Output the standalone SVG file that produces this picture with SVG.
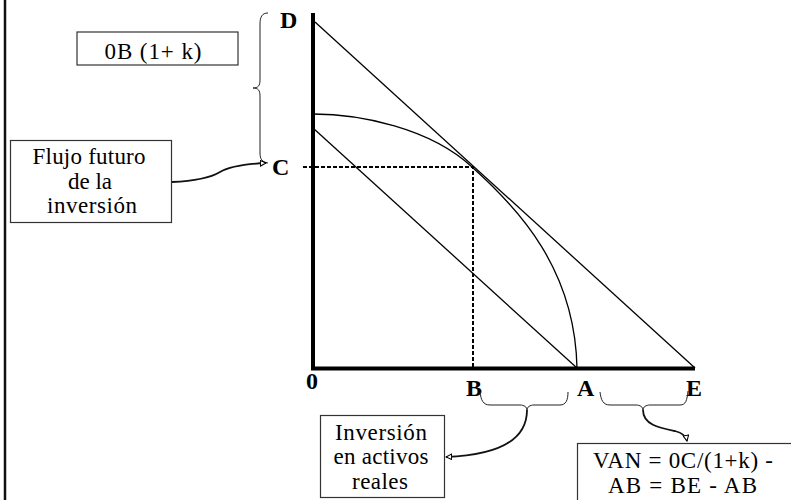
<svg xmlns="http://www.w3.org/2000/svg" width="791" height="500" viewBox="0 0 791 500">
<style>
.box{fill:#fff;stroke:#333;stroke-width:1.2}
.t{font-family:"Liberation Serif","Times New Roman",serif;font-size:23px;fill:#000;text-anchor:middle}
.lbl{font-family:"Liberation Serif","Times New Roman",serif;font-size:24px;font-weight:bold;fill:#000}
.axis{stroke:#000;stroke-width:4;fill:none}
.thin{stroke:#000;stroke-width:1.3;fill:none}
.dash{stroke:#000;stroke-width:2;stroke-dasharray:4 2;fill:none}
.brace{stroke:#222;stroke-width:1;fill:none}
.conn{stroke:#111;stroke-width:1.8;fill:none}
</style>
<defs>
<marker id="ah" viewBox="0 0 10 10" refX="9" refY="5" markerWidth="7" markerHeight="7" markerUnits="userSpaceOnUse" orient="auto">
<path d="M1,1 L9,5 L1,9 Z" fill="#fff" stroke="#000" stroke-width="1.5"/>
</marker>
</defs>

<line x1="5" y1="0" x2="5" y2="500" stroke="#111" stroke-width="2.5"/>

<g id="chart">
<line class="axis" x1="313" y1="13" x2="313" y2="370"/>
<line class="axis" x1="311" y1="368.5" x2="695" y2="368.5"/>
<line class="thin" x1="315" y1="22" x2="695" y2="368"/>
<line class="thin" x1="313" y1="128" x2="577" y2="368"/>
<path class="thin" d="M313,114 C360,114 430,128 472,167 C520,210 575,270 577,368"/>
<path class="dash" d="M303,167 H473 V368"/>
</g>

<g id="labels">
<text class="lbl" x="280" y="28">D</text>
<text class="lbl" x="272" y="175">C</text>
<text class="lbl" x="306" y="389">0</text>
<text class="lbl" x="466" y="396">B</text>
<text class="lbl" x="577" y="396">A</text>
<text class="lbl" x="686" y="396">E</text>
</g>

<g id="braces">
<path class="brace" d="M268,13 C262,13 260,17 260,24 L260,80 C260,86 258,88 253,88 C258,88 260,90 260,96 L260,153 C260,159 262,162 268,163"/>
<path class="brace" d="M480,392 C481,400 483,405 490,405 L520,405 C524,405 527,407 527,410 C527,407 530,405 534,405 L560,405 C566,405 568,400 568,392"/>
<path class="brace" d="M600,392 C601,400 603,405 610,405 L636,405 C640,405 643,407 643,410 C643,407 646,405 650,405 L680,405 C686,405 687,400 688,391"/>
</g>

<g id="connectors">
<path class="conn" d="M172,182 C195,181 210,178 220,172 C230,166 245,164 266,163" marker-end="url(#ah)"/>
<path class="conn" d="M527,410 C527,440 500,455 446,457" marker-end="url(#ah)"/>
<path class="conn" d="M643,410 C643,425 660,428 675,431 C683,433 686,436 687,441" marker-end="url(#ah)"/>
</g>

<g id="box-0b">
<rect class="box" x="77" y="32" width="161" height="33"/>
<text class="t" x="153" y="59" textLength="97" lengthAdjust="spacing">0B (1+ k)</text>
</g>

<g id="box-flujo">
<rect class="box" x="10.5" y="140.5" width="161" height="82"/>
<text class="t" x="89" y="164" textLength="113" lengthAdjust="spacing">Flujo futuro</text>
<text class="t" x="90" y="189" textLength="44" lengthAdjust="spacing">de la</text>
<text class="t" x="92" y="213" textLength="90" lengthAdjust="spacing">inversión</text>
</g>

<g id="box-inversion">
<rect class="box" x="320.5" y="415.5" width="124" height="82"/>
<text class="t" x="381" y="440" textLength="92" lengthAdjust="spacing">Inversión</text>
<text class="t" x="381" y="464" textLength="95" lengthAdjust="spacing">en activos</text>
<text class="t" x="380" y="489" textLength="56" lengthAdjust="spacing">reales</text>
</g>

<g id="box-van">
<rect class="box" x="577.5" y="443.5" width="230" height="70"/>
<text class="t" x="683" y="468" textLength="180" lengthAdjust="spacing">VAN = 0C/(1+k) -</text>
<text class="t" x="682.5" y="493" textLength="149" lengthAdjust="spacing">AB = BE - AB</text>
</g>
</svg>
